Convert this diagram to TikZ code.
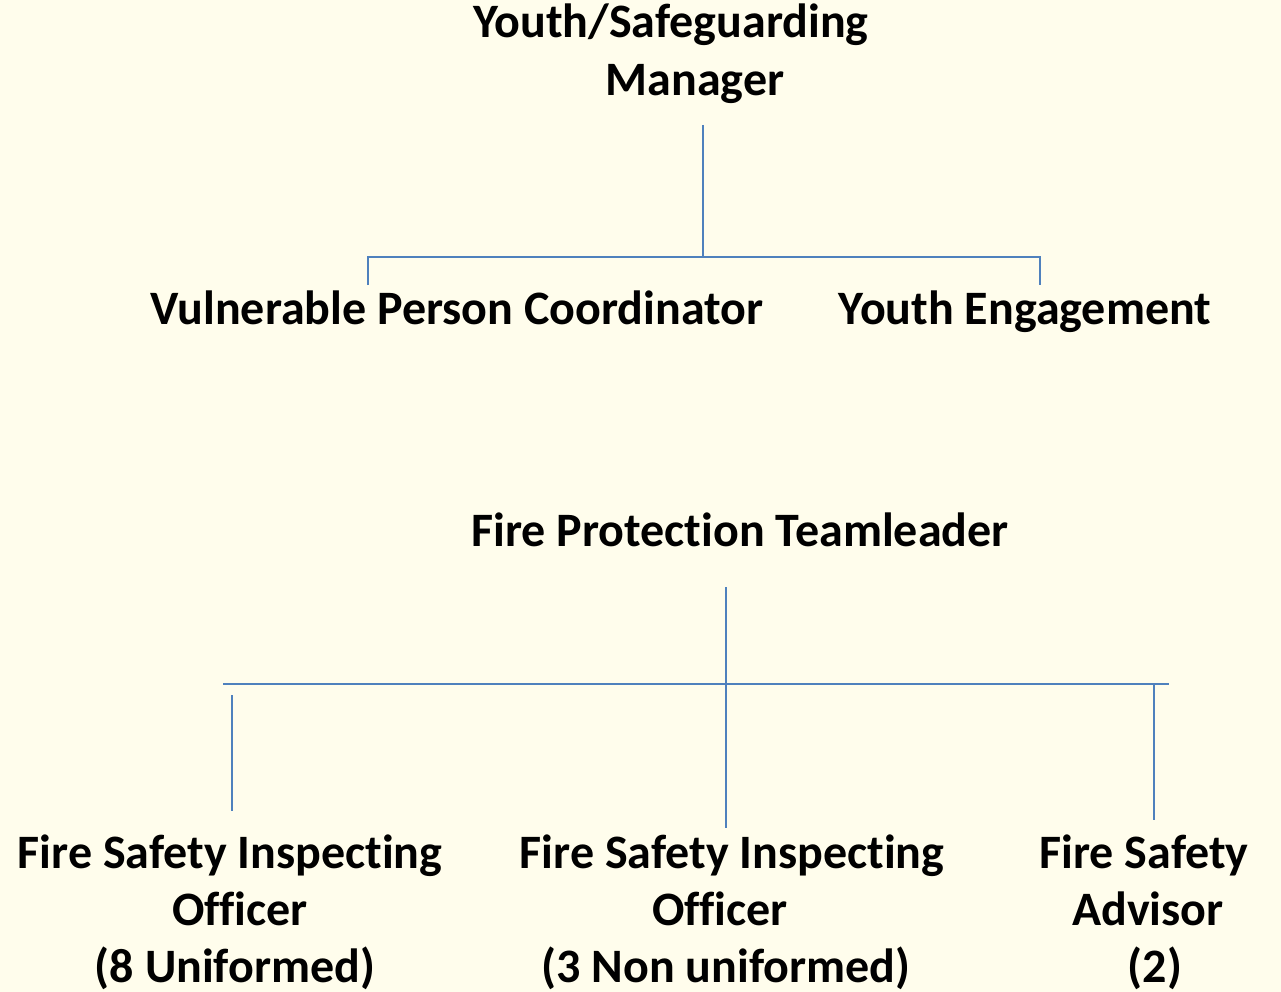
\documentclass[tikz,border=0pt]{standalone}
\usepackage{fontspec}
\setmainfont{Carlito}[RawFeature={-liga;-clig}]
\definecolor{bgc}{RGB}{255,253,236}
\definecolor{linec}{RGB}{79,129,189}
\tikzset{
  lbl/.style={font=\fontsize{48}{57}\selectfont\bfseries, inner sep=0pt, anchor=base},
  conn/.style={draw=linec, line width=2pt}
}
\begin{document}
\begin{tikzpicture}[x=1pt,y=-1pt]
\fill[bgc] (0,0) rectangle (1281,992);
\useasboundingbox (0,0) rectangle (1281,992);
% top group
\node[lbl] (t1) at (671,38) {Youth/Safeguarding};
\node[lbl] (t2) at (695,96) {Manager};
\node[lbl] (vp) at (457,324) {Vulnerable Person Coordinator};
\node[lbl] (ye) at (1025,324) {Youth Engagement};
\coordinate (ta) at (703,125);
\coordinate (tb) at (703,257);
\coordinate (tl) at (368,257);
\coordinate (tr) at (1040,257);
\coordinate (tld) at (368,285);
\coordinate (trd) at (1040,285);
\draw[conn] (ta) -- (tb);
\draw[conn] (tld) -- (tl) -- (tr) -- (trd);
% bottom group
\node[lbl] (fp) at (740,546) {Fire Protection Teamleader};
\node[lbl] (a1) at (230,868) {Fire Safety Inspecting};
\node[lbl] (a2) at (240,925) {Officer};
\node[lbl] (a3) at (235,982) {(8 Uniformed)};
\node[lbl] (b1) at (732,868) {Fire Safety Inspecting};
\node[lbl] (b2) at (720,925) {Officer};
\node[lbl] (b3) at (726,982) {(3 Non uniformed)};
\node[lbl] (c1) at (1144,868) {Fire Safety};
\node[lbl] (c2) at (1148,925) {Advisor};
\node[lbl] (c3) at (1155,982) {(2)};
\coordinate (ba) at (726,587);
\coordinate (bb) at (726,828);
\coordinate (hl) at (223,684);
\coordinate (hr) at (1169,684);
\coordinate (la) at (232,695);
\coordinate (lb) at (232,811);
\coordinate (ra) at (1154,684);
\coordinate (rb) at (1154,820);
\draw[conn] (ba) -- (bb);
\draw[conn] (hl) -- (hr);
\draw[conn] (la) -- (lb);
\draw[conn] (ra) -- (rb);
\end{tikzpicture}
\end{document}
